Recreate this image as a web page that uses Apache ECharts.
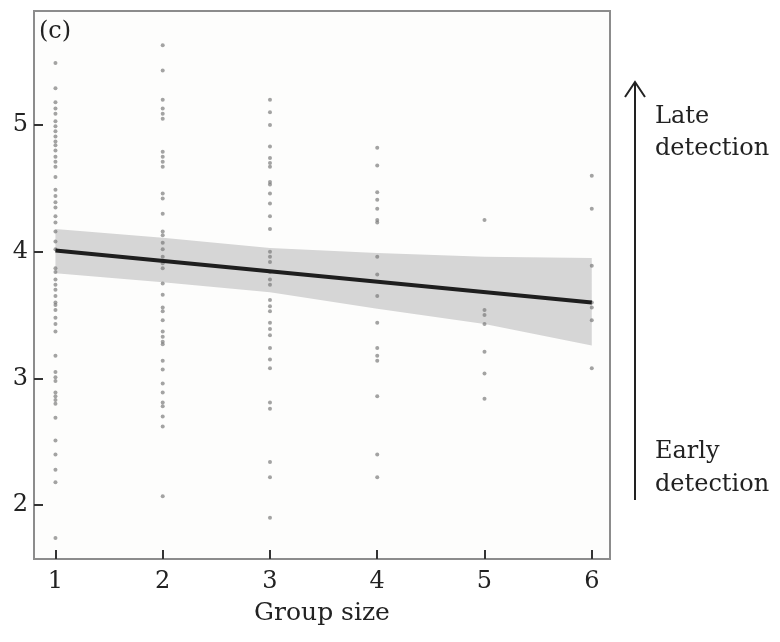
<!DOCTYPE html>
<html>
<head>
<meta charset="utf-8">
<script src="https://cdn.jsdelivr.net/npm/echarts@6/dist/echarts.min.js"></script>
<style>html,body{margin:0;padding:0;background:#fff}#c{width:780px;height:642px}</style>
</head>
<body>
<div id="c"></div>
<script>
var groupSizes = [1, 2, 3, 4, 5, 6];
var xTickLabels = [1, 2, 3, 4, 5, 6];
var yTickLabels = [2, 3, 4, 5];
var size1 = [5.49, 5.29, 5.18, 5.13, 5.09, 5.03, 4.99, 4.95, 4.91, 4.87, 4.84, 4.80, 4.75, 4.71, 4.67, 4.59, 4.49, 4.44, 4.39, 4.35, 4.28, 4.23, 4.16, 4.08, 4.02, 3.87, 3.84, 3.78, 3.74, 3.70, 3.65, 3.60, 3.58, 3.54, 3.48, 3.43, 3.37, 3.18, 3.05, 3.01, 2.98, 2.89, 2.86, 2.83, 2.80, 2.69, 2.51, 2.40, 2.28, 2.18, 1.74];
var size2 = [5.63, 5.43, 5.20, 5.13, 5.09, 5.05, 4.79, 4.75, 4.71, 4.67, 4.46, 4.42, 4.30, 4.16, 4.13, 4.07, 4.02, 3.96, 3.91, 3.87, 3.75, 3.66, 3.56, 3.53, 3.46, 3.37, 3.33, 3.29, 3.27, 3.14, 3.07, 2.96, 2.89, 2.81, 2.78, 2.70, 2.62, 2.07];
var size3 = [5.20, 5.10, 5.00, 4.83, 4.74, 4.70, 4.67, 4.55, 4.53, 4.46, 4.38, 4.28, 4.18, 4.00, 3.96, 3.92, 3.84, 3.78, 3.74, 3.62, 3.57, 3.53, 3.44, 3.39, 3.34, 3.24, 3.15, 3.08, 2.81, 2.76, 2.34, 2.22, 1.90];
var size4 = [4.82, 4.68, 4.47, 4.41, 4.34, 4.25, 4.23, 3.96, 3.82, 3.65, 3.44, 3.24, 3.18, 3.14, 2.86, 2.40, 2.22];
var size5 = [4.25, 3.54, 3.50, 3.43, 3.21, 3.04, 2.84];
var size6 = [4.60, 4.34, 3.89, 3.60, 3.56, 3.46, 3.08];
var fitX = [1, 6];
var fitY = [4.01, 3.60];
var bandX = [1, 2, 3, 4, 5, 6];
var bandUpper = [4.18, 4.11, 4.03, 3.99, 3.96, 3.95];
var bandLower = [3.83, 3.76, 3.68, 3.55, 3.43, 3.26];

var columns = [size1, size2, size3, size4, size5, size6];
var scatterData = [];
columns.forEach(function (col, i) {
  col.forEach(function (v) { scatterData.push([groupSizes[i], v]); });
});

var FONT = 'DejaVu Serif';
var chart = echarts.init(document.getElementById('c'), null, {renderer: 'canvas'});
chart.setOption({
  animation: false,
  backgroundColor: '#ffffff',
  grid: {left: 34, top: 11, right: 170, bottom: 83, show: true,
         borderColor: '#8c8c8c', borderWidth: 2, backgroundColor: '#fdfdfc'},
  xAxis: {
    type: 'value', min: 0.8, max: 6.17,
    axisLine: {show: false},
    splitLine: {show: false},
    axisTick: {show: true, inside: true, length: 9, customValues: xTickLabels,
               lineStyle: {color: '#333', width: 2}},
    axisLabel: {customValues: xTickLabels, fontSize: 24, color: '#222', margin: 11, fontFamily: FONT},
    name: 'Group size', nameLocation: 'middle', nameGap: 42,
    nameTextStyle: {fontSize: 25, color: '#222', fontFamily: FONT}
  },
  yAxis: {
    type: 'value', min: 1.575, max: 5.9,
    axisLine: {show: false},
    splitLine: {show: false},
    axisTick: {show: true, inside: true, length: 9, customValues: yTickLabels,
               lineStyle: {color: '#333', width: 2}},
    axisLabel: {customValues: yTickLabels, fontSize: 24, color: '#222', margin: 6, fontFamily: FONT}
  },
  series: [
    {
      type: 'custom', z: 1, silent: true,
      data: [0],
      renderItem: function (params, api) {
        var pts = [];
        for (var i = 0; i < bandX.length; i++) pts.push(api.coord([bandX[i], bandUpper[i]]));
        for (var j = bandX.length - 1; j >= 0; j--) pts.push(api.coord([bandX[j], bandLower[j]]));
        return {type: 'polygon', shape: {points: pts}, style: {fill: '#d6d6d6'}};
      }
    },
    {
      type: 'scatter', z: 2, data: scatterData, symbol: 'circle', symbolSize: 4,
      itemStyle: {color: 'rgba(120,120,120,0.85)'}
    },
    {
      type: 'line', z: 3, data: fitX.map(function (x, i) { return [x, fitY[i]]; }),
      symbol: 'none', lineStyle: {color: '#1e1e1e', width: 4}
    }
  ],
  graphic: [
    {type: 'text', left: 39, top: 20, style: {text: '(c)', font: '24px "' + FONT + '"', fill: '#222'}},
    {type: 'line', shape: {x1: 635, y1: 500, x2: 635, y2: 82}, style: {stroke: '#222', lineWidth: 2}},
    {type: 'polyline', shape: {points: [[625, 97], [635, 82], [645, 97]]}, style: {stroke: '#222', lineWidth: 2, fill: null}},
    {type: 'text', x: 655, y: 117, style: {text: 'Late', font: '24px "' + FONT + '"', fill: '#222', textVerticalAlign: 'middle'}},
    {type: 'text', x: 655, y: 149, style: {text: 'detection', font: '24px "' + FONT + '"', fill: '#222', textVerticalAlign: 'middle'}},
    {type: 'text', x: 655, y: 452, style: {text: 'Early', font: '24px "' + FONT + '"', fill: '#222', textVerticalAlign: 'middle'}},
    {type: 'text', x: 655, y: 485, style: {text: 'detection', font: '24px "' + FONT + '"', fill: '#222', textVerticalAlign: 'middle'}}
  ]
});
</script>
</body>
</html>
